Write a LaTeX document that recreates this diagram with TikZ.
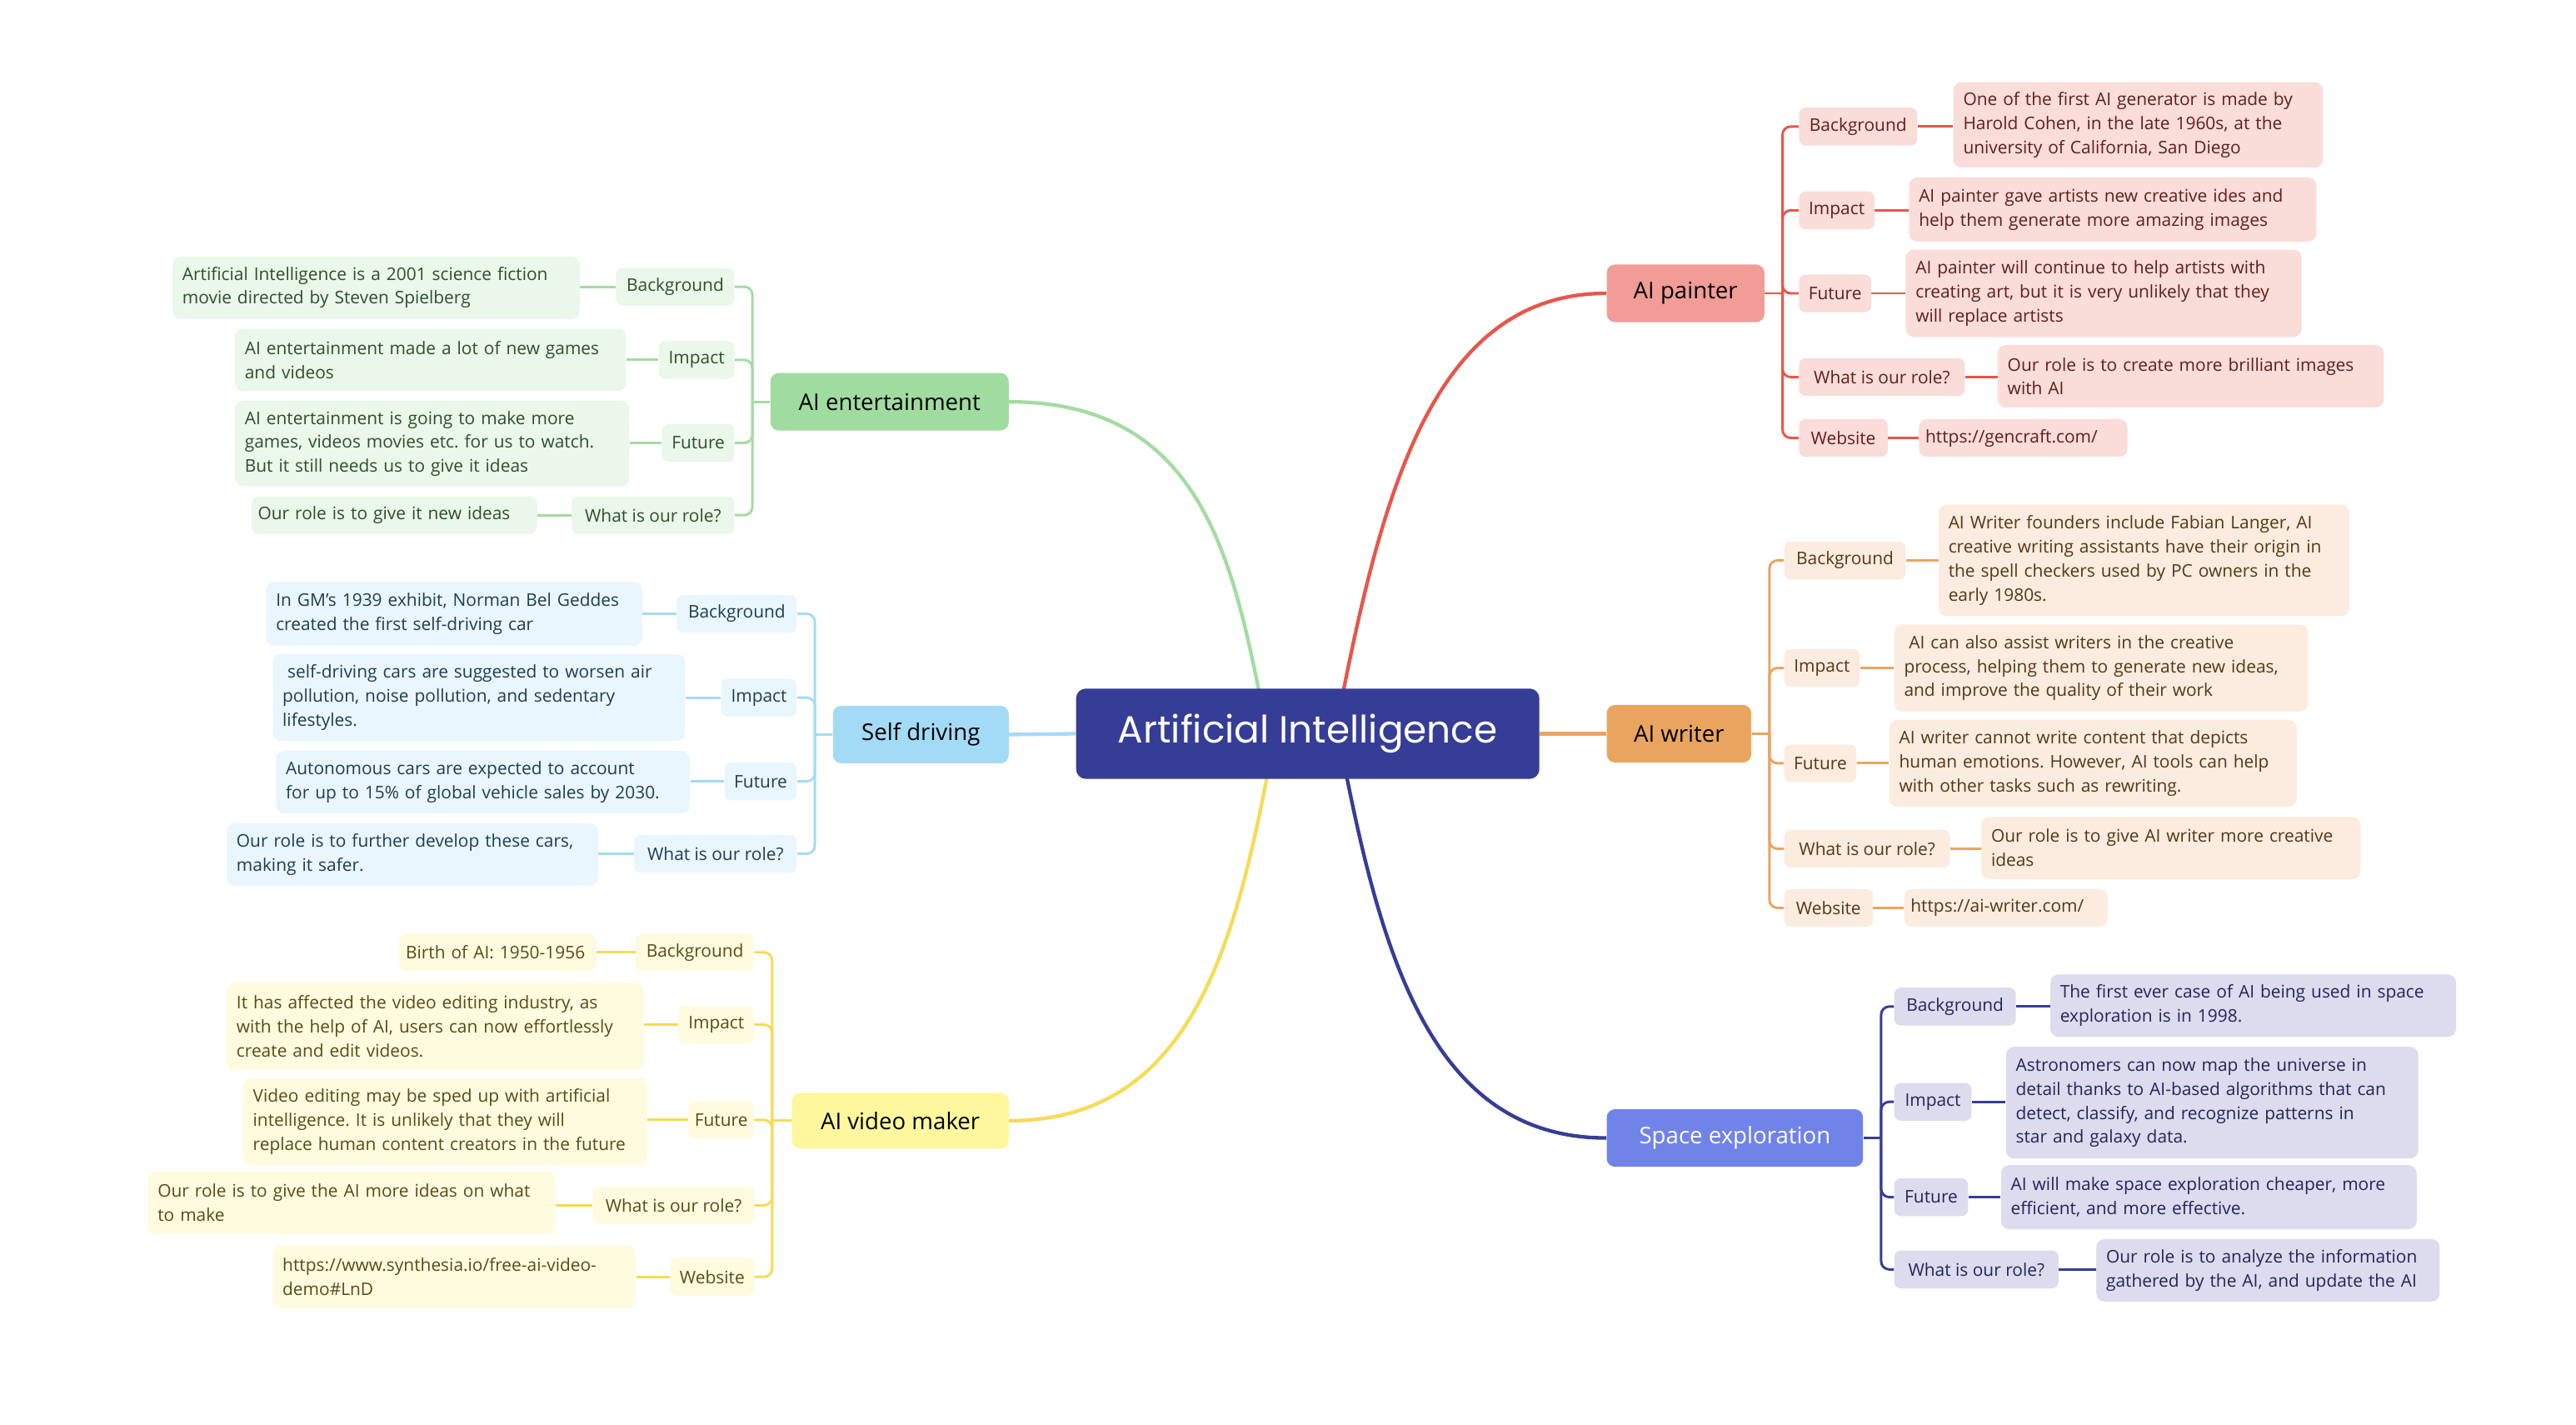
\documentclass[tikz,border=0pt]{standalone}
\usepackage{fontspec}
\setmainfont{Open Sans}
\newfontfamily\cfont{Poppins}
\usetikzlibrary{backgrounds}
\frenchspacing
\definecolor{cR}{HTML}{E8564B}\definecolor{pF}{HTML}{F19C97}\definecolor{pL}{HTML}{FADCD9}\definecolor{pT}{HTML}{5E1F1C}
\definecolor{cO}{HTML}{EBA460}\definecolor{wF}{HTML}{E9A55F}\definecolor{wL}{HTML}{FBECDF}\definecolor{wT}{HTML}{553717}
\definecolor{cN}{HTML}{353D96}\definecolor{sF}{HTML}{7083E9}\definecolor{sL}{HTML}{DCDCEE}\definecolor{sT}{HTML}{22255A}
\definecolor{cG}{HTML}{A3DCA0}\definecolor{eF}{HTML}{A0DCA0}\definecolor{eL}{HTML}{EAF7EA}\definecolor{eT}{HTML}{2E4E2E}
\definecolor{cB}{HTML}{A5DBF5}\definecolor{dF}{HTML}{A3DAF5}\definecolor{dL}{HTML}{EAF6FD}\definecolor{dT}{HTML}{1F3D50}
\definecolor{cY}{HTML}{F6DB57}\definecolor{vF}{HTML}{FFF79D}\definecolor{vL}{HTML}{FFFBDF}\definecolor{vT}{HTML}{574B18}
\tikzset{
  box/.style={rounded corners=5pt, draw=none, inner xsep=6pt, inner ysep=2pt, font=\fontsize{10.6}{14.6}\selectfont\frenchspacing},
  lbl/.style={box, rounded corners=4pt, minimum height=23pt, inner xsep=2pt, align=center},
  det/.style={box, align=left},
  one/.style={box, align=left, inner xsep=4pt, minimum height=23pt},
  topic/.style={rounded corners=5pt, minimum height=35pt, inner xsep=2pt, font=\fontsize{14}{16}\selectfont},
  mainline/.style={line width=2.2pt},
  subline/.style={line width=1.5pt, rounded corners=5pt},
}
\begin{document}
\begin{tikzpicture}[x=1pt,y=-1pt]
\useasboundingbox (0,0) rectangle (1568,867);

% ---------- central ----------
\node[rounded corners=6pt, fill=cN, text=white, minimum width=282pt, minimum height=55pt, font=\cfont\fontsize{23}{26}\selectfont] (ai) at (796,446.5) {Artificial Intelligence};

% ---------- AI painter ----------
\node[topic, fill=pF, minimum width=96pt] (painter) at (1026,178.5) {AI painter};
\node[lbl, fill=pL, text=pT, minimum width=72pt] (pbg) at (1131,77) {Background};
\node[lbl, fill=pL, text=pT, minimum width=46pt] (pim) at (1118,128) {Impact};
\node[lbl, fill=pL, text=pT, minimum width=44pt] (pfu) at (1117,178.5) {Future};
\node[lbl, fill=pL, text=pT, minimum width=101pt] (pro) at (1145.5,229.5) {What is our role?};
\node[lbl, fill=pL, text=pT, minimum width=54pt] (pwe) at (1122,266.5) {Website};
\node[det, fill=pL, text=pT, text width=213pt, minimum height=52pt] (pbgd) at (1301.5,76) {One of the first AI generator is made by\\Harold Cohen, in the late 1960s, at the\\university of California, San Diego};
\node[det, fill=pL, text=pT, text width=236pt, minimum height=39pt] (pimd) at (1286,127.5) {AI painter gave artists new creative ides and\\help them generate more amazing images};
\node[det, fill=pL, text=pT, text width=229pt, minimum height=53pt] (pfud) at (1280.5,178.5) {AI painter will continue to help artists with\\creating art, but it is very unlikely that they\\will replace artists};
\node[det, fill=pL, text=pT, text width=223pt, minimum height=38pt] (prod) at (1333.5,229) {Our role is to create more brilliant images\\with AI};
\node[one, fill=pL, text=pT, text width=119pt] (pwed) at (1231.5,266.5) {https://gencraft.com/};

% ---------- AI writer ----------
\node[topic, fill=wF, minimum width=88pt] (writer) at (1022,446.5) {AI writer};
\node[lbl, fill=wL, text=wT, minimum width=74pt] (wbg) at (1123,341) {Background};
\node[lbl, fill=wL, text=wT, minimum width=46pt] (wim) at (1109,406.5) {Impact};
\node[lbl, fill=wL, text=wT, minimum width=44pt] (wfu) at (1108,464.5) {Future};
\node[lbl, fill=wL, text=wT, minimum width=101pt] (wro) at (1136.5,516.5) {What is our role?};
\node[lbl, fill=wL, text=wT, minimum width=54pt] (wwe) at (1113,552.5) {Website};
\node[det, fill=wL, text=wT, text width=238pt, minimum height=68pt] (wbgd) at (1305,341) {AI Writer founders include Fabian Langer, AI\\creative writing assistants have their origin in\\the spell checkers used by PC owners in the\\early 1980s.};
\node[det, fill=wL, text=wT, text width=240pt, minimum height=53pt] (wimd) at (1279,406.5) {\hspace{3pt}AI can also assist writers in the creative\\process, helping them to generate new ideas,\\and improve the quality of their work};
\node[det, fill=wL, text=wT, text width=236pt, minimum height=53pt] (wfud) at (1274,464.5) {AI writer cannot write content that depicts\\human emotions. However, AI tools can help\\with other tasks such as rewriting.};
\node[det, fill=wL, text=wT, text width=219pt, minimum height=38pt] (wrod) at (1321.5,516) {Our role is to give AI writer more creative\\ideas};
\node[one, fill=wL, text=wT, text width=116pt] (wwed) at (1221,552.5) {https://ai-writer.com/};

% ---------- Space exploration ----------
\node[topic, fill=sF, text=white, minimum width=156pt] (space) at (1056,692.5) {Space exploration};
\node[lbl, fill=sL, text=sT, minimum width=74pt] (sbg) at (1190,612.5) {Background};
\node[lbl, fill=sL, text=sT, minimum width=47pt] (sim) at (1176.5,670.5) {Impact};
\node[lbl, fill=sL, text=sT, minimum width=45pt] (sfu) at (1175.5,728.5) {Future};
\node[lbl, fill=sL, text=sT, minimum width=100pt] (sro) at (1203,772.5) {What is our role?};
\node[det, fill=sL, text=sT, text width=235pt, minimum height=38pt] (sbgd) at (1371.5,612) {The first ever case of AI being used in space\\exploration is in 1998.};
\node[det, fill=sL, text=sT, text width=239pt, minimum height=68pt] (simd) at (1346.5,671) {Astronomers can now map the universe in\\detail thanks to AI-based algorithms that can\\detect, classify, and recognize patterns in\\star and galaxy data.};
\node[det, fill=sL, text=sT, text width=241pt, minimum height=39pt] (sfud) at (1344.5,728.5) {AI will make space exploration cheaper, more\\efficient, and more effective.};
\node[det, fill=sL, text=sT, text width=197pt, minimum height=38pt] (srod) at (1380.5,773) {Our role is to analyze the information\\gathered by the AI, and update the AI};

% ---------- AI entertainment ----------
\node[topic, fill=eF, minimum width=145pt] (ent) at (541.5,244.5) {AI entertainment};
\node[lbl, fill=eL, text=eT, minimum width=72pt] (ebg) at (411,174.5) {Background};
\node[lbl, fill=eL, text=eT, minimum width=46pt] (eim) at (424,219) {Impact};
\node[lbl, fill=eL, text=eT, minimum width=44pt] (efu) at (425,269.5) {Future};
\node[lbl, fill=eL, text=eT, minimum width=99pt] (ero) at (397.5,313.5) {What is our role?};
\node[det, fill=eL, text=eT, text width=236pt, minimum height=38pt] (ebgd) at (229,175) {Artificial Intelligence is a 2001 science fiction\\movie directed by Steven Spielberg};
\node[det, fill=eL, text=eT, text width=226pt, minimum height=38pt] (eimd) at (262,219) {AI entertainment made a lot of new games\\and videos};
\node[det, fill=eL, text=eT, text width=228pt, minimum height=52pt] (efud) at (263,270) {AI entertainment is going to make more\\games, videos movies etc. for us to watch.\\But it still needs us to give it ideas};
\node[one, fill=eL, text=eT, text width=166pt] (erod) at (240,313.5) {Our role is to give it new ideas};

% ---------- Self driving ----------
\node[topic, fill=dF, minimum width=107pt] (sd) at (560.5,447) {Self driving};
\node[lbl, fill=dL, text=dT, minimum width=73pt] (dbg) at (448.5,373.5) {Background};
\node[lbl, fill=dL, text=dT, minimum width=46pt] (dim) at (462,424.5) {Impact};
\node[lbl, fill=dL, text=dT, minimum width=44pt] (dfu) at (463,475.5) {Future};
\node[lbl, fill=dL, text=dT, minimum width=99pt] (dro) at (435.5,519.5) {What is our role?};
\node[det, fill=dL, text=dT, text width=217pt, minimum height=39pt] (dbgd) at (276.5,373.5) {In GM's 1939 exhibit, Norman Bel Geddes\\created the first self-driving car};
\node[det, fill=dL, text=dT, text width=239pt, minimum height=53pt] (dimd) at (291.5,424.5) {\hspace{3pt}self-driving cars are suggested to worsen air\\pollution, noise pollution, and sedentary\\lifestyles.};
\node[det, fill=dL, text=dT, text width=240pt, minimum height=38pt] (dfud) at (294,476) {Autonomous cars are expected to account\\for up to 15\% of global vehicle sales by 2030.};
\node[det, fill=dL, text=dT, text width=214pt, minimum height=38pt] (drod) at (251,520) {Our role is to further develop these cars,\\making it safer.};

% ---------- AI video maker ----------
\node[topic, fill=vF, minimum width=132pt, minimum height=34pt] (vm) at (548,682) {AI video maker};
\node[lbl, fill=vL, text=vT, minimum width=72pt] (vbg) at (423,579.5) {Background};
\node[lbl, fill=vL, text=vT, minimum width=46pt] (vim) at (436,623.5) {Impact};
\node[lbl, fill=vL, text=vT, minimum width=40pt] (vfu) at (439,681.5) {Future};
\node[lbl, fill=vL, text=vT, minimum width=98pt] (vro) at (410,733.5) {What is our role?};
\node[lbl, fill=vL, text=vT, minimum width=51pt] (vwe) at (433.5,777) {Website};
\node[one, fill=vL, text=vT, text width=112pt] (vbgd) at (303,579.5) {Birth of AI: 1950-1956};
\node[det, fill=vL, text=vT, text width=242pt, minimum height=53pt] (vimd) at (265,624.5) {It has affected the video editing industry, as\\with the help of AI, users can now effortlessly\\create and edit videos.};
\node[det, fill=vL, text=vT, text width=234pt, minimum height=53pt] (vfud) at (271,682.5) {Video editing may be sped up with artificial\\intelligence. It is unlikely that they will\\replace human content creators in the future};
\node[det, fill=vL, text=vT, text width=236pt, minimum height=38pt] (vrod) at (214,732) {Our role is to give the AI more ideas on what\\to make};
\node[det, fill=vL, text=vT, text width=209pt, minimum height=38pt] (vwed) at (276.5,777) {https://www.synthesia.io/free-ai-video-\\demo\#LnD};

% ---------- connectors ----------
\begin{scope}[on background layer]
  \coordinate (aiR) at (818,419);
  \coordinate (aiN) at (820,474);
  \coordinate (aiG) at (766,419);
  \coordinate (aiY) at (771,474);
  \draw[mainline, cR] (ai.center -| aiR) -- (aiR) .. controls (844,289) and (877,178.5) .. (painter.west);
  \draw[mainline, cN] (ai.center -| aiN) -- (aiN) .. controls (844,593) and (877,692.5) .. (space.west);
  \draw[mainline, cG] (ai.center -| aiG) -- (aiG) .. controls (748,330) and (725,244.5) .. (ent.east);
  \draw[mainline, cY] (ai.center -| aiY) -- (aiY) .. controls (750,581) and (722,682) .. (vm.east);
  \draw[mainline, cO] (ai.east) -- (writer.west);
  \draw[mainline, cB] (sd.east) -- (ai.west);

  \coordinate (pJ) at (1085,178.5);
  \draw[subline, cR] (painter.east) -- (pJ);
  \foreach \n in {pbg,pim,pfu,pro,pwe} \draw[subline, cR] (pJ) |- (\n.west);
  \foreach \n in {pbg,pim,pfu,pro,pwe} \draw[subline, cR] (\n.east) -- (\n.east -| \n d.west);

  \coordinate (wJ) at (1077,446.5);
  \draw[subline, cO] (writer.east) -- (wJ);
  \foreach \n in {wbg,wim,wfu,wro,wwe} \draw[subline, cO] (wJ) |- (\n.west);
  \foreach \n in {wbg,wim,wfu,wro,wwe} \draw[subline, cO] (\n.east) -- (\n.east -| \n d.west);

  \coordinate (sJ) at (1145,692.5);
  \draw[subline, cN] (space.east) -- (sJ);
  \foreach \n in {sbg,sim,sfu,sro} \draw[subline, cN] (sJ) |- (\n.west);
  \foreach \n in {sbg,sim,sfu,sro} \draw[subline, cN] (\n.east) -- (\n.east -| \n d.west);

  \coordinate (eJ) at (458,244.5);
  \draw[subline, cG] (ent.west) -- (eJ);
  \foreach \n in {ebg,eim,efu,ero} \draw[subline, cG] (eJ) |- (\n.east);
  \foreach \n in {ebg,eim,efu,ero} \draw[subline, cG] (\n.west) -- (\n.west -| \n d.east);

  \coordinate (dJ) at (496,447);
  \draw[subline, cB] (sd.west) -- (dJ);
  \foreach \n in {dbg,dim,dfu,dro} \draw[subline, cB] (dJ) |- (\n.east);
  \foreach \n in {dbg,dim,dfu,dro} \draw[subline, cB] (\n.west) -- (\n.west -| \n d.east);

  \coordinate (vJ) at (470,682);
  \draw[subline, cY] (vm.west) -- (vJ);
  \foreach \n in {vbg,vim,vfu,vro,vwe} \draw[subline, cY] (vJ) |- (\n.east);
  \foreach \n in {vbg,vim,vfu,vro,vwe} \draw[subline, cY] (\n.west) -- (\n.west -| \n d.east);
\end{scope}
\end{tikzpicture}
\end{document}
